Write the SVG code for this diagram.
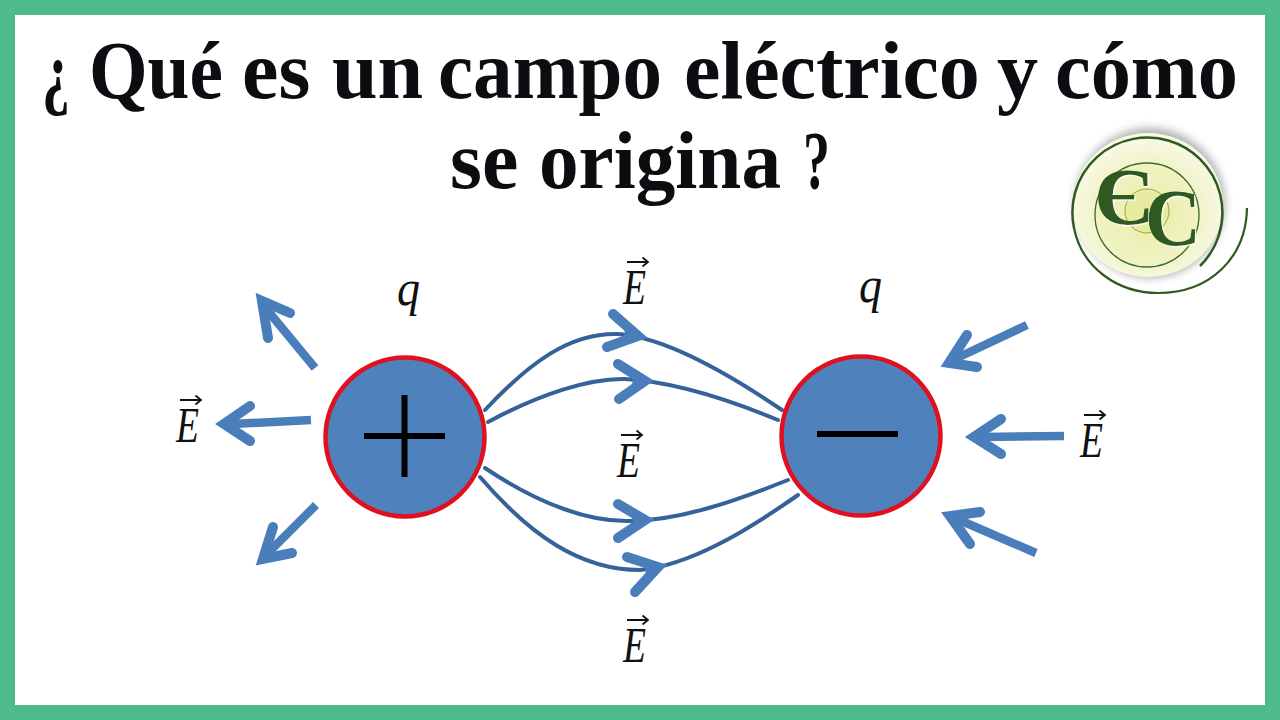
<svg xmlns="http://www.w3.org/2000/svg" width="1280" height="720" viewBox="0 0 1280 720">
<style>
.title{font-family:"Liberation Serif",serif;font-weight:700;font-size:82px;fill:#0b0d10}
.sym{font-family:"Liberation Serif",serif;font-style:italic;font-size:50px;fill:#111}
.vec{fill:none;stroke:#111;stroke-width:1.8}
.disk{fill:#4f81bd;stroke:#e0101f;stroke-width:4.500}
.sign{stroke:#000;stroke-width:6;fill:none}
.curve{fill:none;stroke:#36629a;stroke-width:4;stroke-linecap:round}
.head{fill:none;stroke:#4a7ebb;stroke-width:10;stroke-linecap:round;stroke-linejoin:miter;stroke-miterlimit:8}
.notch{fill:#4a7ebb}
.shaft{fill:none;stroke:#4a7ebb;stroke-width:8.500}
.logoline{fill:none;stroke:#2f5a1e}
.logotext{font-family:"Liberation Serif",serif;font-weight:700;font-size:80px;fill:#2f5a23;filter:url(#edge)}
</style>
<defs>
<radialGradient id="logoFill" cx="0.5" cy="0.55" r="0.55">
<stop offset="0" stop-color="#e9ec9f"/><stop offset="0.55" stop-color="#f0f2c4"/><stop offset="1" stop-color="#f9faea"/>
</radialGradient>
<filter id="soft" x="-20%" y="-20%" width="140%" height="140%"><feGaussianBlur stdDeviation="4"/></filter>
<filter id="edge" x="-10%" y="-10%" width="120%" height="120%"><feDropShadow dx="1.200" dy="1.200" stdDeviation="0.300" flood-color="#ffffff"/></filter>
<g id="evec">
<text class="sym" x="0" y="0" textLength="23" lengthAdjust="spacingAndGlyphs">E</text>
<path class="vec" d="M4 -42H24M19.500 -46.500L25 -42L19.500 -37.500"/>
</g>
</defs>
<rect width="1280" height="720" fill="#4fbb8a"/>
<rect x="15" y="15" width="1250" height="690" fill="#fff"/>
<g id="title">
<text class="title" y="98"><tspan x="42" textLength="28" lengthAdjust="spacingAndGlyphs">¿</tspan> <tspan x="89" textLength="134" lengthAdjust="spacingAndGlyphs">Qué</tspan> <tspan x="242">es</tspan> <tspan x="332">un</tspan> <tspan x="438" textLength="224" lengthAdjust="spacingAndGlyphs">campo</tspan> <tspan x="684">eléctrico</tspan> <tspan x="997">y</tspan> <tspan x="1055" textLength="183" lengthAdjust="spacingAndGlyphs">cómo</tspan></text>
<text class="title" y="188"><tspan x="450">se</tspan> <tspan x="539" textLength="242" lengthAdjust="spacingAndGlyphs">origina</tspan> <tspan x="803" textLength="27" lengthAdjust="spacingAndGlyphs">?</tspan></text>
</g>
<g id="logo">
<circle cx="1150" cy="203" r="75" fill="#666" opacity="0.5" filter="url(#soft)"/>
<ellipse cx="1148" cy="205" rx="75" ry="72" fill="url(#logoFill)"/>
<circle cx="1147" cy="215" r="52" fill="#eef0b4" fill-opacity="0.35" stroke="#3d6a25" stroke-width="1.300"/>
<circle cx="1147" cy="211" r="22" fill="#e6e99a" fill-opacity="0.6" stroke="#97a63a" stroke-width="1"/>
<path class="logoline" stroke-width="2.500" d="M1200 266A75 75 0 1 0 1074 228"/>
<path class="logoline" stroke-width="2.200" d="M1074 228C1082 268 1118 293 1158 293C1210 293 1246 258 1247 208"/>
<text class="logotext" x="1094" y="224" textLength="60" lengthAdjust="spacingAndGlyphs">Є</text>
<text class="logotext" x="1145" y="245" textLength="56" lengthAdjust="spacingAndGlyphs">C</text>
</g>
<g id="connectors">
<path class="curve" d="M485 410C530 362 570 333 617 334C660 336 720 368 782 410"/>
<path class="head" d="M613 314L638 336L607 347"/>
<path class="notch" d="M638 336L623 323L625 333.500L619 343Z"/>
<path class="curve" d="M488 422C540 394 590 378 625 379C665 381 720 396 778 420"/>
<path class="head" d="M618 364L645 381L619 399"/>
<path class="notch" d="M645 381L629 371L633 381L629 392Z"/>
<path class="curve" d="M485 468C540 505 590 522 630 521C680 520 730 503 788 480"/>
<path class="head" d="M618 504L645 520L618 538"/>
<path class="notch" d="M645 520L629 510L633 521L629 531Z"/>
<path class="curve" d="M480 477C530 535 580 570 640 570C690 565 745 532 798 495"/>
<path class="head" d="M627 557L658 567L635 592"/>
<path class="notch" d="M658 567L639 561L646 570L644 582Z"/>
<path class="shaft" d="M315 368L268 311"/>
<path class="head" d="M290 313L262 301L268 338"/>
<path class="notch" d="M262 301L279 308L270 312L266 323Z"/>
<path class="shaft" d="M311 420L232 424"/>
<path class="head" d="M250 406L224 424L250 441"/>
<path class="notch" d="M224 424L240 413L236 424L240 434Z"/>
<path class="shaft" d="M316 505L270 551"/>
<path class="head" d="M273 527L263 559L292 553"/>
<path class="notch" d="M263 559L269 540L272 550L280 555Z"/>
<path class="shaft" d="M1027 325L957 358"/>
<path class="head" d="M967 335L949 363L977 367"/>
<path class="notch" d="M949 363L960 346L959 358L966 365Z"/>
<path class="shaft" d="M1064 436L982 437"/>
<path class="head" d="M1001 419L974 437L1001 454"/>
<path class="notch" d="M974 437L990 426L986 437L990 447Z"/>
<path class="shaft" d="M1036 553L957 519"/>
<path class="head" d="M980 512L950 516L970 544"/>
<path class="notch" d="M950 516L968 514L961 521L962 533Z"/>
</g>
<g id="charge-positive">
<circle class="disk" cx="405" cy="437" r="79.500"/>
<path class="sign" d="M364 436H445M404.500 395V477"/>
<text class="sym" x="397" y="305" textLength="23" lengthAdjust="spacingAndGlyphs">q</text>
</g>
<g id="charge-negative">
<circle class="disk" cx="861" cy="436" r="79.500"/>
<path class="sign" d="M817 434H898"/>
<text class="sym" x="859" y="302" textLength="23" lengthAdjust="spacingAndGlyphs">q</text>
</g>
<g id="field-labels">
<use href="#evec" x="623" y="304"/>
<use href="#evec" x="176" y="442"/>
<use href="#evec" x="617" y="477"/>
<use href="#evec" x="623" y="662"/>
<use href="#evec" x="1080" y="457"/>
</g>
</svg>
